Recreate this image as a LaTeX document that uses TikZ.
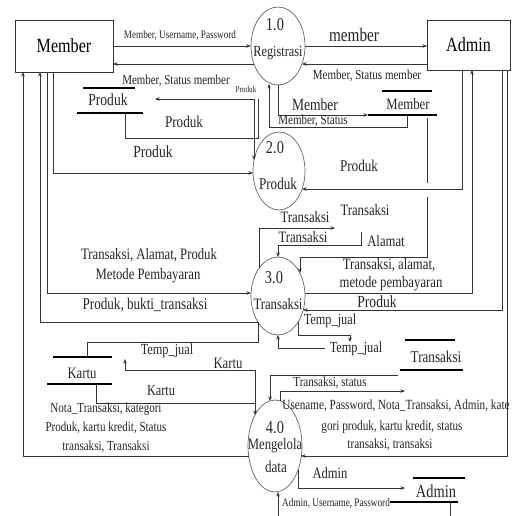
\documentclass[tikz,border=0pt]{standalone}
\usepackage{fontspec}
\setmainfont{Liberation Serif}[FakeStretch=0.8]
\usetikzlibrary{arrows.meta,shapes.geometric}
\newcommand{\lblsize}[1]{\fontsize{\fpeval{#1*1.06}}{\fpeval{#1*1.06}}\selectfont}
\begin{document}
\begin{tikzpicture}[x=1pt,y=-1pt,
  ln/.style={draw=black!80, line width=0.6pt},
  flow/.style={ln, -{Stealth[length=4.5pt,width=3.5pt]}},
  store/.style={draw=black, line width=1.8pt},
  proc/.style={draw=black!60, line width=0.7pt, ellipse, inner sep=0pt},
  ent/.style={draw=black!80, line width=0.7pt, rectangle, inner sep=0pt},
  lbl/.style={inner sep=0pt, text=black!85}]
\path[use as bounding box, fill=white] (0,0) rectangle (511,516);
\clip (0,0) rectangle (511,516);

% entities
\node[ent, minimum width=98pt, minimum height=52pt, font=\lblsize{19}] (member) at (64,46) {Member};
\node[ent, minimum width=83pt, minimum height=50pt, font=\lblsize{19}] (admin) at (468.5,45) {Admin};

% processes
\node[proc, minimum width=54pt, minimum height=78pt] (c1) at (278,46) {};
\node[lbl, font=\lblsize{17}] (c1n) at (275,25) {1.0};
\node[lbl, font=\lblsize{14.5}] (c1t) at (278,53) {Registrasi};
\node[proc, minimum width=52pt, minimum height=78pt] (c2) at (279,171) {};
\node[lbl, font=\lblsize{17}] (c2n) at (275,148) {2.0};
\node[lbl, font=\lblsize{15.5}] (c2t) at (278,184) {Produk};
\node[proc, minimum width=54pt, minimum height=78pt] (c3) at (278,296) {};
\node[lbl, font=\lblsize{17}] (c3n) at (274,278) {3.0};
\node[lbl, font=\lblsize{15}] (c3t) at (278,304) {Transaksi};
\node[proc, minimum width=54pt, minimum height=92pt] (c4) at (275,446) {};
\node[lbl, font=\lblsize{17}] (c4n) at (275,428) {4.0};
\node[lbl, font=\lblsize{15}] (c4t) at (275,446) {Mengelola};
\node[lbl, font=\lblsize{15.5}] (c4u) at (276,467) {data};

% data stores
\draw[store] (83,88) -- (135,88); \draw[store] (77,113) -- (143,113);
\node[lbl, font=\lblsize{16}] (sProduk) at (108,100) {Produk};
\draw[store] (382,91) -- (432,91); \draw[store] (368,115) -- (437,115);
\node[lbl, font=\lblsize{15}] (sMember) at (408,104) {Member};
\draw[store] (405,340) -- (455,340); \draw[store] (400,370) -- (463,370);
\node[lbl, font=\lblsize{15.5}] (sTrans) at (436,357) {Transaksi};
\draw[store] (53,357) -- (112,357); \draw[store] (47,384) -- (112,384);
\node[lbl, font=\lblsize{15}] (sKartu) at (82,373) {Kartu};
\draw[store] (413,478) -- (465,478); \draw[store] (390,502) -- (458,502);
\node[lbl, font=\lblsize{17}] (sAdmin) at (436,491) {Admin};

% 1.0 flows
\draw[flow] (member.east) -- (c1.west);
\node[lbl, font=\lblsize{10.8}] (l1) at (180,35) {Member, Username, Password};
\draw[flow] (254,64) -- (113,64);
\node[lbl, font=\lblsize{12.9}] (l2) at (176,81) {Member, Status member};
\draw[flow] (c1.east) -- (427,46);
\node[lbl, font=\lblsize{18}] (l3) at (354,35) {member};
\draw[flow] (427,64) -- (302,64);
\node[lbl, font=\lblsize{13}] (l4) at (367,76) {Member, Status member};

% produk store flows
\node[lbl, font=\lblsize{8.5}] (l5) at (246,89) {Produk};
\draw[flow] (254,99) -- (155,99);
\draw[flow] (254,99) -- (254,160);
\draw[ln] (125,113) -- (125,138) -- (258,138) -- (258,99);
\node[lbl, font=\lblsize{15.5}] (l6) at (184,122) {Produk};

% member store flows
\draw[flow] (278,85) -- (278,115) -- (368,115);
\draw[flow] (407,115) -- (407,127) -- (269,127) -- (269,84);
\node[lbl, font=\lblsize{16}] (l7) at (315,105) {Member};
\node[lbl, font=\lblsize{13}] (l8) at (313,120.5) {Member, Status};

% 2.0 flows
\draw[flow] (53,72) -- (53,173) -- (253,173);
\node[lbl, font=\lblsize{16}] (l9) at (153,152) {Produk};
\draw[flow] (462,70) -- (462,189) -- (302,189);
\node[lbl, font=\lblsize{15.5}] (l10) at (359,166) {Produk};

% 3.0 flows
\draw[flow] (47,72) -- (47,293) -- (251,293);
\node[lbl, font=\lblsize{15}] (l11) at (149,255) {Transaksi, Alamat, Produk};
\node[lbl, font=\lblsize{15}] (l11b) at (148,276) {Metode Pembayaran};
\draw[flow] (258,322) -- (40,322) -- (40,72);
\node[lbl, font=\lblsize{15.5}] (l12) at (145,305) {Produk, bukti\_transaksi};
\draw[flow] (305,293) -- (472,293) -- (472,70);
\node[lbl, font=\lblsize{15}] (l13) at (389,265) {Transaksi, alamat,};
\node[lbl, font=\lblsize{15}] (l14) at (391,284) {metode pembayaran};
\draw[flow] (502,70) -- (502,310) -- (303,310);
\node[lbl, font=\lblsize{16}] (l15) at (377,302) {Produk};

\draw[flow] (259,268) -- (259,228) -- (335,228);
\node[lbl, font=\lblsize{15}] (l16) at (305,217) {Transaksi};
\node[lbl, font=\lblsize{15}] (l17) at (365,210) {Transaksi};
\draw[flow] (361,232) -- (361,245) -- (278,245) -- (278,257);
\node[lbl, font=\lblsize{15}] (l18) at (303,237) {Transaksi};
\node[lbl, font=\lblsize{15}] (l19) at (386,241) {Alamat};
\draw[ln] (427,118) -- (427,183);
\draw[flow] (427,197) -- (427,257) -- (300,257) -- (300,273);

\draw[flow] (298,322) -- (298,335) -- (350,335) -- (350,342);
\node[lbl, font=\lblsize{14.5}] (l20) at (330,321) {Temp\_jual};
\draw[flow] (325,348) -- (278,348) -- (278,335);
\node[lbl, font=\lblsize{14.5}] (l21) at (356,349) {Temp\_jual};
\draw[ln] (87,357) -- (87,342) -- (258,342) -- (258,322);
\node[lbl, font=\lblsize{14.5}] (l22) at (167,351) {Temp\_jual};

% kartu flows
\draw[flow] (255,403) -- (255,370) -- (125,370) -- (125,359);
\node[lbl, font=\lblsize{15}] (l23) at (228,363) {Kartu};
\draw[flow] (96,384) -- (96,403) -- (255,403) -- (255,415);
\node[lbl, font=\lblsize{14.5}] (l24) at (161,391) {Kartu};

% 4.0 flows
\draw[flow] (249,456) -- (23,456) -- (23,72);
\node[lbl, font=\lblsize{13}] (l25) at (106,409) {Nota\_Transaksi, kategori};
\node[lbl, font=\lblsize{13}] (l25b) at (106,428) {Produk, kartu kredit, Status};
\node[lbl, font=\lblsize{13}] (l25c) at (106,447) {transaksi, Transaksi};

\draw[flow] (398,375) -- (270,375) -- (270,401);
\draw[flow] (280,401) -- (280,391) -- (405,391);
\node[lbl, font=\lblsize{13}] (l26) at (330,383) {Transaksi, status};

\draw[flow] (507,70) -- (507,456) -- (301,456);
\node[lbl, font=\lblsize{13.2}] (l27) at (396,406) {Usename, Password, Nota\_Transaksi, Admin, kate};
\node[lbl, font=\lblsize{13.2}] (l27b) at (392,427) {gori produk, kartu kredit, status};
\node[lbl, font=\lblsize{13.2}] (l27c) at (390,445) {transaksi, transaksi};

\draw[flow] (298,470) -- (298,488) -- (405,488);
\node[lbl, font=\lblsize{14.8}] (l28) at (330,473) {Admin};
\draw[flow] (450,502) -- (450,525) -- (278,525) -- (278,492);
\node[lbl, font=\lblsize{10.9}] (l29) at (336,503) {Admin, Username, Password};
\end{tikzpicture}
\end{document}
